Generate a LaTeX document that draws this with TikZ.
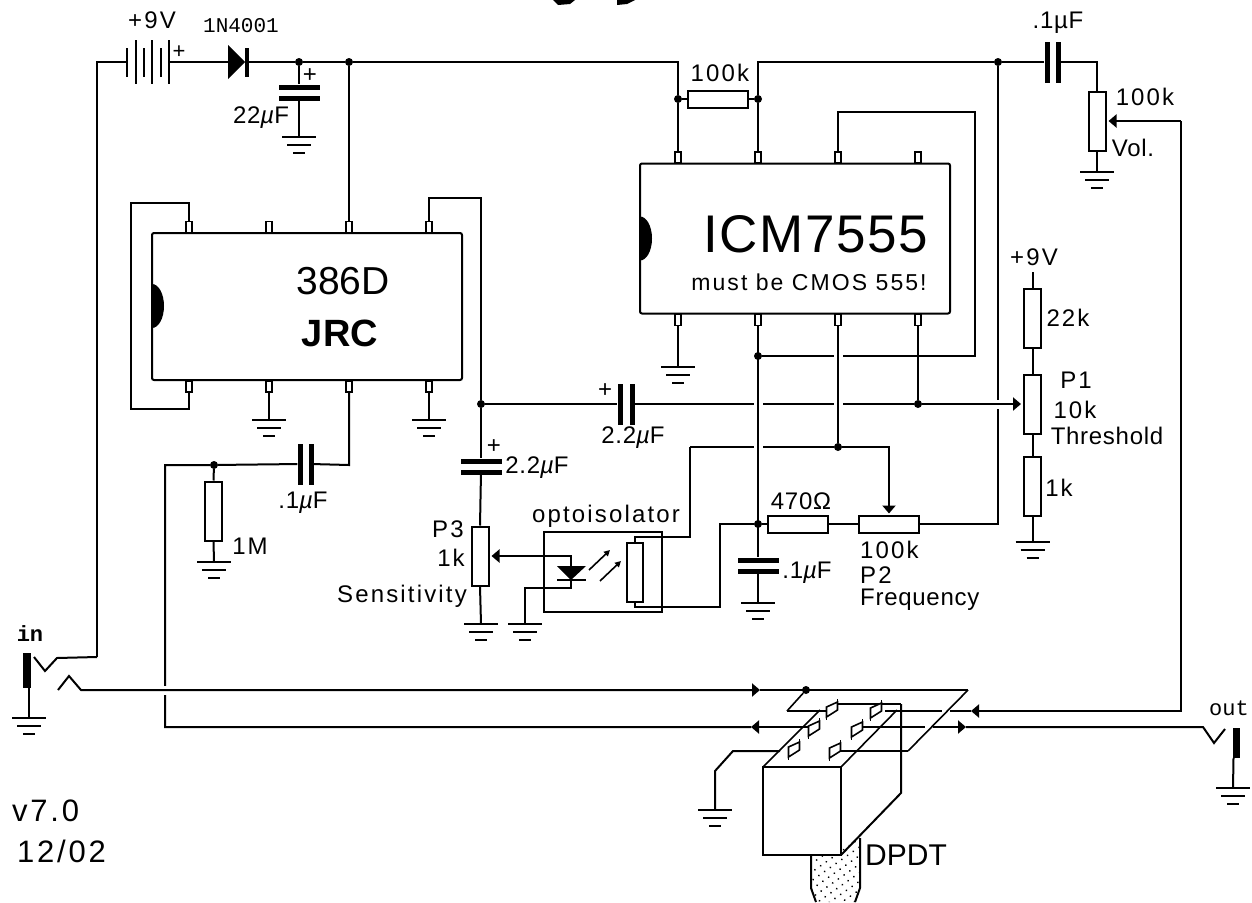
\documentclass[tikz,border=0pt]{standalone}
\usepackage{fontspec}
\setmainfont{Liberation Sans}
\setmonofont{Liberation Mono}
\newfontfamily\genevatext[LetterSpace=3]{Liberation Sans}
\newfontfamily\genevawide[LetterSpace=9]{Liberation Sans}
\usepackage{tikz}
\usetikzlibrary{arrows.meta}
\usetikzlibrary{patterns.meta}

\newcommand{\uF}{{\itshape µ}F}

\tikzset{
  wire/.style={line width=2pt,line join=miter},
  thru/.style={wire,-{Triangle[length=8pt,width=13pt]}},
  slant/.style={line width=1.6pt},
  dot/.style={circle,fill=black,inner sep=0pt,minimum size=8pt},
  resv/.style={rectangle,draw,fill=white,line width=2pt,inner sep=0pt,minimum width=17pt,minimum height=59pt},
  resh/.style={rectangle,draw,fill=white,line width=2pt,inner sep=0pt,minimum width=60pt,minimum height=17pt},
  platev/.style={rectangle,fill=black,inner sep=0pt,minimum width=5pt,minimum height=41pt},
  plateh/.style={rectangle,fill=black,inner sep=0pt,minimum width=41pt,minimum height=5pt},
  cell/.style={rectangle,fill=black,inner sep=0pt,minimum width=2pt},
  pin/.style={rectangle,draw,fill=white,line width=1.5pt,inner sep=0pt,minimum width=6pt,minimum height=11pt},
  chip/.style={rectangle,draw,line width=2pt,inner sep=0pt,rounded corners=2pt},
  gap/.style={rectangle,fill=white,inner sep=0pt,minimum size=9pt},
  lab/.style={inner sep=0pt,font=\fontsize{24}{26}\genevatext},
  wide/.style={inner sep=0pt,font=\fontsize{24}{26}\genevawide},
  bitmap/.style={inner sep=0pt,font=\fontsize{22}{24}\ttfamily},
  gnd/.pic={
    \draw[wire] (-17,0) -- (17,0);
    \draw[wire] (-12,8) -- (12,8);
    \draw[wire] (-6,16) -- (6,16);
  },
  lug/.pic={
    \draw[slant,fill=white] (-5.5,-2) -- (5.5,-7) -- (5.5,1) -- (-5.5,8) -- cycle;
    \draw[slant] (-5.5,8) -- (-5.5,11);
    \draw[slant] (5.5,-7) -- (5.5,-10);
  }
}

\begin{document}
\begin{tikzpicture}[x=1pt,y=-1pt]
  \useasboundingbox (0,0) rectangle (1252,902);

  % what is left of the heading
  \fill (553,0) -- (575,0) -- (570,4) -- (558,5) -- cycle;
  \fill (617,0) -- (635,0) -- (627,4) -- (617,5) -- cycle;

  % chips
  \node[chip,minimum width=310pt,minimum height=147pt] (jrc) at (307,306.5) {};
  \node[chip,minimum width=310pt,minimum height=150pt] (icm) at (795,238.5) {};
  \fill (152,284) arc[start angle=-90,end angle=90,x radius=12,y radius=22];
  \fill (640,216.5) arc[start angle=-90,end angle=90,x radius=12,y radius=22];
  \foreach \x in {189,269,349,429} {
    \node[pin,anchor=south] (jt\x) at (\x,233) {};
    \node[pin,anchor=north] (jb\x) at (\x,380) {};
  }
  \foreach \x in {678,758,838,918} {
    \node[pin,anchor=south] (it\x) at (\x,163.5) {};
    \node[pin,anchor=north] (ib\x) at (\x,313.5) {};
  }

  % parts
  \foreach \x/\h in {127/29,136/44,144/29,152/44,161/29,169/44}
    \node[cell,minimum height=\h pt] (bat\x) at (\x,62) {};
  \fill (228,45) -- (228,79) -- (245,62) -- cycle;
  \fill (245,48) rectangle (249,77);
  \node[plateh] (c22a) at (299,87) {};
  \node[plateh] (c22b) at (299,98) {};
  \node[platev] (cvola) at (1047,62) {};
  \node[platev] (cvolb) at (1058,62) {};
  \node[platev] (cina) at (300,464) {};
  \node[platev] (cinb) at (311,464) {};
  \node[platev] (csiga) at (620,404) {};
  \node[platev] (csigb) at (632,404) {};
  \node[plateh] (csena) at (481,461) {};
  \node[plateh] (csenb) at (481,472) {};
  \node[plateh] (ctima) at (758,560) {};
  \node[plateh] (ctimb) at (758,571) {};
  \node[resh] (rfb) at (718,99) {};
  \node[resv] (pvol) at (1097,121) {};
  \node[resv] (r22k) at (1032.5,318) {};
  \node[resv] (pthr) at (1032.5,404) {};
  \node[resv] (r1k) at (1032.5,486.5) {};
  \node[resv] (r1m) at (213.5,511) {};
  \node[resv] (psen) at (480,556) {};
  \node[resh] (r470) at (798,524) {};
  \node[resh] (pfrq) at (889,524) {};

  % junctions
  \foreach \n/\x/\y in {d22/299/62,dtop/349/62,dfba/678/99,dfbb/758/99,dout/998/62,
                        dsig/481/404,dthr/918/404,dres/758/356,dfrq/838/447,
                        dtim/758/524,din/214/465,dsw/806/690}
    \node[dot] (\n) at (\x,\y) {};

  % grounds
  \foreach \n/\x/\y in {g22/299/137,gvol/1097/172,gicm/678/367,gjb/269/420,gjc/429/420,
                        gr1m/214/562,gsen/481/624,gled/525/624,gtim/758/603,g1k/1032.5/542,
                        gjin/29/718,gjout/1233/788,gsw/715/810} {
    \coordinate (\n) at (\x,\y);
    \pic at (\n) {gnd};
  }

  % supply rail
  \draw[wire]
    (97,657)
    --
    (97,62)
    --
    (bat127);
  \draw[wire]
    (bat169)
    --
    (228,62);
  \draw[wire]
    (249,62)
    --
    (d22)
    --
    (dtop)
    --
    (678,62)
    --
    (dfba)
    --
    (it678.north);
  \draw[wire] (d22) -- (c22a);
  \draw[wire] (c22b) -- (g22);
  \draw[wire] (dtop) -- (jt349.north);
  \draw[wire] (dfba) -- (rfb);
  \draw[wire] (rfb) -- (dfbb);
  \draw[wire]
    (it758.north)
    --
    (dfbb)
    --
    (758,62)
    --
    (dout)
    --
    (cvola);
  \draw[wire]
    (cvolb)
    --
    (1097,62)
    --
    (pvol.north);
  \draw[wire] (pvol.south) -- (gvol);
  \draw[thru,shorten >=2pt]
    (1181,121)
    --
    (pvol.east);

  % feedback round the 7555
  \draw[wire]
    (it838.north)
    --
    (838,112)
    --
    (975,112)
    --
    (975,356)
    --
    (dres);

  % P2 back up to the output
  \draw[wire]
    (pfrq.east)
    --
    (998,524)
    --
    (dout);
  \node[gap] (x5) at (998,404) {};

  % flat wires that the uprights break
  \draw[wire] (dsig) -- (csiga);
  \draw[wire] (csigb) -- (dthr);
  \draw[thru,shorten >=2pt] (dthr) -- (pthr.west);
  \draw[wire] (690,447) -- (dfrq);
  \node[gap] (x1) at (758,404) {};
  \node[gap] (x2) at (838,404) {};
  \node[gap] (x3) at (838,356) {};
  \node[gap] (x4) at (758,447) {};
  \draw[wire]
    (ib758.south)
    --
    (ctima);
  \draw[wire] (ctimb) -- (gtim);
  \draw[wire]
    (ib838.south)
    --
    (dfrq);
  \draw[wire] (ib918.south) -- (dthr);
  \draw[wire] (ib678.south) -- (gicm);
  \draw[thru,shorten >=1pt]
    (dfrq)
    --
    (889,447)
    --
    (pfrq.north);
  \draw[wire] (dtim) -- (r470);
  \draw[wire] (r470) -- (pfrq);

  % threshold chain
  \coordinate (v9) at (1032.5,272);
  \draw[wire] (v9) -- (r22k.north);
  \draw[wire] (r22k.south) -- (pthr.north);
  \draw[wire] (pthr.south) -- (r1k.north);
  \draw[wire] (r1k.south) -- (g1k);

  % 386 wiring
  \draw[wire]
    (jt189.north)
    --
    (189,203)
    --
    (131,203)
    --
    (131,409)
    --
    (189,409)
    --
    (jb189.south);
  \draw[wire]
    (jt429.north)
    --
    (429,198)
    --
    (481,198)
    --
    (dsig)
    --
    (csena);
  \draw[wire] (csenb) -- (psen.north);
  \draw[wire] (psen.south) -- (gsen);
  \draw[wire] (jb269.south) -- (gjb);
  \draw[wire] (jb429.south) -- (gjc);
  \draw[wire]
    (jb349.south)
    --
    (349,465)
    --
    (cinb);
  \draw[wire]
    (cina)
    --
    (din)
    --
    (165,465)
    --
    (165,727)
    --
    (751,727);
  \draw[wire] (din) -- (r1m.north);
  \draw[wire] (r1m.south) -- (gr1m);

  % optoisolator
  \node[rectangle,draw,line width=2pt,inner sep=0pt,minimum width=118pt,minimum height=80pt] (opto) at (603,572) {};
  \node[rectangle,draw,fill=white,line width=2pt,inner sep=0pt,minimum width=16pt,minimum height=59pt] (rldr) at (635,572.5) {};
  \draw[thru,shorten >=2pt]
    (571,566)
    --
    (571,556)
    --
    (psen.east);
  \fill (557,566) -- (586,566) -- (571,580) -- cycle;
  \draw[wire] (557,580) -- (586,580);
  \draw[wire]
    (571,580)
    --
    (571,588)
    --
    (525,588)
    --
    (gled);
  \draw[slant,-{Triangle[length=6pt,width=6pt]}] (589,570) -- (610,550);
  \draw[slant,-{Triangle[length=6pt,width=6pt]}] (600,581) -- (621,561);
  \draw[wire]
    (rldr.north)
    --
    (635,537)
    --
    (690,537)
    --
    (690,447);
  \draw[wire]
    (rldr.south)
    --
    (635,607)
    --
    (720,607)
    --
    (720,524)
    --
    (dtim);

  % the switch
  \fill[pattern={Dots[distance=7pt,radius=1pt,angle=35]}]
    (811,855)
    --
    (811,888)
    --
    (816,902)
    --
    (855,902)
    --
    (860,888)
    --
    (860,838)
    --
    cycle;
  \draw[wire]
    (811,855)
    --
    (811,888)
    --
    (816,902);
  \draw[wire]
    (855,902)
    --
    (860,888)
    --
    (860,838);
  \node[gap] (x6) at (165,690) {};
  \draw[thru]
    (58,690)
    --
    (69,676)
    --
    (81,690)
    --
    (760,690);
  \draw[wire] (760,690) -- (968,690);
  \draw[thru]
    (1181,121)
    --
    (1181,711)
    --
    (971,711);
  \draw[wire] (971,711) -- (885,711);
  \draw[thru] (855,727) -- (966,727);
  \draw[wire]
    (966,727)
    --
    (1203,727)
    --
    (1214,743)
    --
    (1225,729);
  \draw[thru] (808,727) -- (751,727);
  \draw[wire] (787,711) -- (826,711);
  \draw[wire] (838,704) -- (901,704);
  \draw[wire]
    (780,751)
    --
    (733,751)
    --
    (715,771)
    --
    (gsw);
  \draw[wire] (835,751) -- (908,751);
  \node[gap,minimum size=8pt] (x7) at (946,711) {};
  \node[gap,minimum size=8pt] (x8) at (929,727) {};
  \draw[slant] (968,690) -- (908,751);
  \draw[slant] (dsw) -- (787,711);
  \draw[slant] (763,767) -- (820,710);
  \draw[slant] (841,767) -- (897,710);
  \draw[wire]
    (901,704)
    --
    (901,793)
    --
    (841,855);
  \node[rectangle,draw,fill=white,line width=2pt,inner sep=0pt,minimum width=78pt,minimum height=88pt] (swbox) at (802,811) {};
  \foreach \x/\y in {832/709,876/710,814/728,794/749,857/729,835/750}
    \pic at (\x,\y) {lug};

  % jacks
  \fill (23,653) rectangle (31,688);
  \draw[wire] (29,688) -- (gjin);
  \draw[wire]
    (34,657)
    --
    (45,671)
    --
    (57,658)
    --
    (97,657);
  \fill (1233,728) rectangle (1240,758);
  \draw[wire] (1233.5,758) -- (gjout);

  % texts
  \node[wide] (t9v) at (152,20) {+9V};
  \node[lab,font=\fontsize{22}{22}\selectfont] (tplus) at (179,52) {+};
  \node[bitmap,font=\fontsize{21}{22}\ttfamily] (tdiode) at (241,26) {1N4001};
  \node[lab,font=\fontsize{24}{22}\selectfont] (tpl22) at (310,76) {+};
  \node[lab] (t22) at (261,118) {22\uF};
  \node[wide] (t100k) at (720,73) {100k};
  \node[lab] (tcv) at (1058,23) {.1µF};
  \node[wide] (tv100) at (1145,97) {100k};
  \node[lab] (tvol) at (1133,148) {Vol.};
  \node[lab,font=\fontsize{39}{42}\selectfont] (t386) at (343,281) {386D};
  \node[lab,font=\fontsize{38}{42}\bfseries] (tjrc) at (340,333) {JRC};
  \node[lab,font=\fontsize{53}{60}\genevatext] (t7555) at (816,234) {ICM7555};
  \node[wide,font=\fontsize{23}{24}\genevawide] (tcmos) at (809,282) {must be CMOS 555!};
  \node[wide] (tt9) at (1034,257) {+9V};
  \node[wide] (t22k) at (1068,318) {22k};
  \node[wide] (tp1) at (1076,380) {P1};
  \node[wide] (t10k) at (1075,410) {10k};
  \node[lab] (tthr) at (1107,436) {Threshold};
  \node[wide] (t1k) at (1059,488) {1k};
  \node[lab] (tpl1) at (605,391) {+};
  \node[lab] (t22b) at (633,438) {2.2\uF};
  \node[lab] (tpl2) at (494,447) {+};
  \node[lab] (t22c) at (537,468) {2.2\uF};
  \node[lab] (t1u) at (303,503) {.1\uF};
  \node[wide] (t1m) at (250,546) {1M};
  \node[wide] (tp3) at (448,529) {P3};
  \node[wide] (t1ks) at (451,558) {1k};
  \node[wide,anchor=east] (tsen) at (467,596) {Sensitivity};
  \node[wide] (topt) at (606,516) {optoisolator};
  \node[lab] (t470) at (801,501) {470Ω};
  \node[lab] (t1t) at (807,573) {.1\uF};
  \node[wide,anchor=west] (tf100) at (860,550) {100k};
  \node[wide,anchor=west] (tp2) at (860,575) {P2};
  \node[lab,anchor=west] (tfrq) at (860,600) {Frequency};
  \node[bitmap,font=\fontsize{22}{24}\ttfamily\bfseries] (tin) at (30,634) {in};
  \node[bitmap] (tout) at (1229,708) {out};
  \node[lab,anchor=west,font=\fontsize{31}{34}\genevawide] (tver) at (12,811) {v7.0};
  \node[lab,anchor=west,font=\fontsize{31}{34}\genevawide] (tdate) at (17,851) {12/02};
  \node[lab,font=\fontsize{30}{32}\selectfont] (tdpdt) at (906,855) {DPDT};
\end{tikzpicture}
\end{document}
